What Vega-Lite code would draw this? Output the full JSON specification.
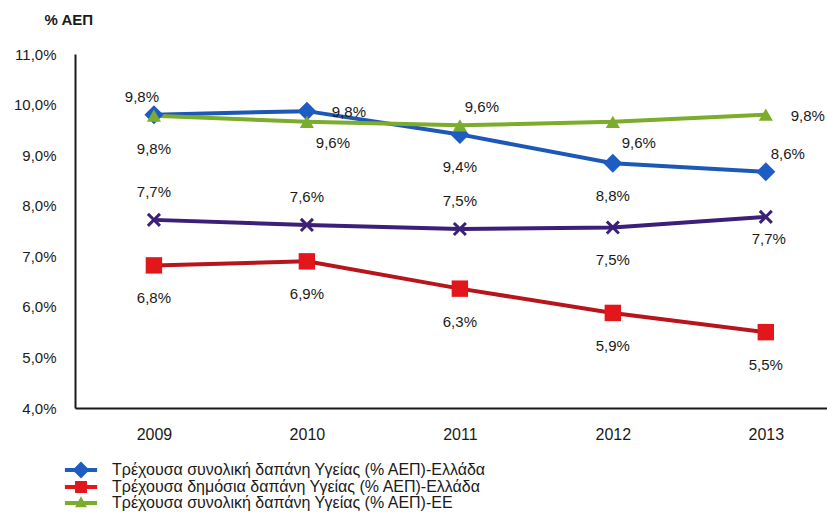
{
  "$schema": "https://vega.github.io/schema/vega-lite/v6.json",
  "width": 752,
  "height": 354,
  "autosize": {"type": "none"},
  "padding": {"left": 75, "top": 54, "right": 0, "bottom": 117},
  "background": "white",
  "config": {
    "view": {"stroke": null},
    "font": "Liberation Sans",
    "text": {"font": "Liberation Sans", "fontSize": 15, "color": "#1a1a1a", "baseline": "middle", "align": "center"}
  },
  "data": {
    "values": [
      {"year": 2009, "series": "Τρέχουσα συνολική δαπάνη Υγείας (% ΑΕΠ)-Ελλάδα", "value": 9.8, "label": "9,8%", "pos": "aboveleft"},
      {"year": 2010, "series": "Τρέχουσα συνολική δαπάνη Υγείας (% ΑΕΠ)-Ελλάδα", "value": 9.87, "label": "9,8%", "pos": "right"},
      {"year": 2011, "series": "Τρέχουσα συνολική δαπάνη Υγείας (% ΑΕΠ)-Ελλάδα", "value": 9.41, "label": "9,4%", "pos": "below"},
      {"year": 2012, "series": "Τρέχουσα συνολική δαπάνη Υγείας (% ΑΕΠ)-Ελλάδα", "value": 8.84, "label": "8,8%", "pos": "below"},
      {"year": 2013, "series": "Τρέχουσα συνολική δαπάνη Υγείας (% ΑΕΠ)-Ελλάδα", "value": 8.67, "label": "8,6%", "pos": "aboveright"},
      {"year": 2009, "series": "Τρέχουσα δημόσια δαπάνη Υγείας (% ΑΕΠ)-Ελλάδα", "value": 6.82, "label": "6,8%", "pos": "below"},
      {"year": 2010, "series": "Τρέχουσα δημόσια δαπάνη Υγείας (% ΑΕΠ)-Ελλάδα", "value": 6.9, "label": "6,9%", "pos": "below"},
      {"year": 2011, "series": "Τρέχουσα δημόσια δαπάνη Υγείας (% ΑΕΠ)-Ελλάδα", "value": 6.36, "label": "6,3%", "pos": "below"},
      {"year": 2012, "series": "Τρέχουσα δημόσια δαπάνη Υγείας (% ΑΕΠ)-Ελλάδα", "value": 5.88, "label": "5,9%", "pos": "below"},
      {"year": 2013, "series": "Τρέχουσα δημόσια δαπάνη Υγείας (% ΑΕΠ)-Ελλάδα", "value": 5.5, "label": "5,5%", "pos": "below"},
      {"year": 2009, "series": "Τρέχουσα συνολική δαπάνη Υγείας (% ΑΕΠ)-ΕΕ", "value": 9.78, "label": "9,8%", "pos": "below"},
      {"year": 2010, "series": "Τρέχουσα συνολική δαπάνη Υγείας (% ΑΕΠ)-ΕΕ", "value": 9.66, "label": "9,6%", "pos": "belowright"},
      {"year": 2011, "series": "Τρέχουσα συνολική δαπάνη Υγείας (% ΑΕΠ)-ΕΕ", "value": 9.59, "label": "9,6%", "pos": "aboveright"},
      {"year": 2012, "series": "Τρέχουσα συνολική δαπάνη Υγείας (% ΑΕΠ)-ΕΕ", "value": 9.66, "label": "9,6%", "pos": "belowright"},
      {"year": 2013, "series": "Τρέχουσα συνολική δαπάνη Υγείας (% ΑΕΠ)-ΕΕ", "value": 9.8, "label": "9,8%", "pos": "right"},
      {"year": 2009, "series": "Τρέχουσα δημόσια δαπάνη Υγείας (% ΑΕΠ)-ΕΕ", "value": 7.72, "label": "7,7%", "pos": "above"},
      {"year": 2010, "series": "Τρέχουσα δημόσια δαπάνη Υγείας (% ΑΕΠ)-ΕΕ", "value": 7.62, "label": "7,6%", "pos": "above"},
      {"year": 2011, "series": "Τρέχουσα δημόσια δαπάνη Υγείας (% ΑΕΠ)-ΕΕ", "value": 7.54, "label": "7,5%", "pos": "above"},
      {"year": 2012, "series": "Τρέχουσα δημόσια δαπάνη Υγείας (% ΑΕΠ)-ΕΕ", "value": 7.57, "label": "7,5%", "pos": "below"},
      {"year": 2013, "series": "Τρέχουσα δημόσια δαπάνη Υγείας (% ΑΕΠ)-ΕΕ", "value": 7.78, "label": "7,7%", "pos": "belownear"}
    ]
  },
  "encoding": {
    "x": {
      "field": "year", "type": "quantitative",
      "scale": {"domain": [2008.484, 2013.4], "nice": false, "zero": false},
      "axis": {
        "values": [2009, 2010, 2011, 2012, 2013], "format": "d", "title": null,
        "grid": false, "ticks": false, "domainColor": "#1a1a1a", "domainWidth": 2,
        "labelFont": "Liberation Sans", "labelFontSize": 16, "labelColor": "#1a1a1a",
        "labelPadding": 18, "labelFlush": false
      }
    },
    "y": {
      "field": "value", "type": "quantitative",
      "scale": {"domain": [4, 11], "nice": false, "zero": false},
      "axis": {
        "values": [4, 5, 6, 7, 8, 9, 10, 11],
        "labelExpr": "replace(format(datum.value, '.1f'), '.', ',') + '%'",
        "grid": false, "ticks": false, "domainColor": "#1a1a1a", "domainWidth": 2,
        "labelFont": "Liberation Sans", "labelFontSize": 15, "labelColor": "#1a1a1a",
        "labelPadding": 19, "labelFlush": false,
        "title": "% ΑΕΠ", "titleAngle": 0, "titleAlign": "left", "titleBaseline": "middle",
        "titleX": -31, "titleY": -35, "titleFont": "Liberation Sans",
        "titleFontSize": 15, "titleFontWeight": "bold", "titleColor": "#1a1a1a"
      }
    }
  },
  "layer": [
    {
      "mark": {"type": "line", "strokeWidth": 4},
      "encoding": {
        "color": {
          "field": "series", "type": "nominal",
          "scale": {
            "domain": ["Τρέχουσα συνολική δαπάνη Υγείας (% ΑΕΠ)-Ελλάδα", "Τρέχουσα δημόσια δαπάνη Υγείας (% ΑΕΠ)-Ελλάδα", "Τρέχουσα συνολική δαπάνη Υγείας (% ΑΕΠ)-ΕΕ", "Τρέχουσα δημόσια δαπάνη Υγείας (% ΑΕΠ)-ΕΕ"],
            "range": ["#1d58b6", "#b8141c", "#7cac2c", "#3b1f78"]
          },
          "legend": {
            "values": ["Τρέχουσα συνολική δαπάνη Υγείας (% ΑΕΠ)-Ελλάδα", "Τρέχουσα δημόσια δαπάνη Υγείας (% ΑΕΠ)-Ελλάδα", "Τρέχουσα συνολική δαπάνη Υγείας (% ΑΕΠ)-ΕΕ"],
            "title": null, "orient": "none", "legendX": -2, "legendY": 408,
            "labelFont": "Liberation Sans", "labelFontSize": 16, "labelColor": "#1a1a1a",
            "labelLimit": 600, "symbolSize": 196, "symbolType": "square", "rowPadding": -3, "labelOffset": 23,
            "encode": {
              "symbols": {
                "update": {
                  "shape": {"signal": "datum.index === 0 ? 'M-2.3,-0.28 L-0.92,-0.28 L0,-1.2 L0.92,-0.28 L2.3,-0.28 L2.3,0.28 L0.92,0.28 L0,1.2 L-0.92,0.28 L-2.3,0.28 Z' : datum.index === 1 ? 'M-2.3,-0.28 L-0.85,-0.28 L-0.85,-0.85 L0.85,-0.85 L0.85,-0.28 L2.3,-0.28 L2.3,0.28 L0.85,0.28 L0.85,0.85 L-0.85,0.85 L-0.85,0.28 L-2.3,0.28 Z' : 'M-2.3,-0.28 L-0.37,-0.28 L0,-0.95 L0.37,-0.28 L2.3,-0.28 L2.3,0.28 L0.675,0.28 L0.85,0.6 L-0.85,0.6 L-0.675,0.28 L-2.3,0.28 Z'"},
                  "fill": {"signal": "datum.index === 0 ? '#1d5cc2' : datum.index === 1 ? '#e3161c' : '#7cac2c'"},
                  "stroke": {"value": "transparent"},
                  "strokeWidth": {"value": 0},
                  "opacity": {"value": 1}
                }
              }
            }
          }
        }
      }
    },
    {
      "transform": [{"filter": "datum.series === 'Τρέχουσα συνολική δαπάνη Υγείας (% ΑΕΠ)-Ελλάδα'"}],
      "mark": {"type": "point", "filled": true, "opacity": 1, "shape": "diamond", "size": 360, "color": "#1d5cc2"}
    },
    {
      "transform": [{"filter": "datum.series === 'Τρέχουσα δημόσια δαπάνη Υγείας (% ΑΕΠ)-Ελλάδα'"}],
      "mark": {"type": "point", "filled": true, "opacity": 1, "shape": "square", "size": 270, "color": "#e3161c"}
    },
    {
      "transform": [{"filter": "datum.series === 'Τρέχουσα συνολική δαπάνη Υγείας (% ΑΕΠ)-ΕΕ'"}],
      "mark": {"type": "point", "filled": true, "opacity": 1, "shape": "triangle-up", "size": 200, "color": "#7cac2c"}
    },
    {
      "transform": [{"filter": "datum.series === 'Τρέχουσα δημόσια δαπάνη Υγείας (% ΑΕΠ)-ΕΕ'"}],
      "mark": {"type": "point", "filled": true, "opacity": 1, "shape": "M-1,-0.7 L-0.7,-1 L0,-0.3 L0.7,-1 L1,-0.7 L0.3,0 L1,0.7 L0.7,1 L0,0.3 L-0.7,1 L-1,0.7 L-0.3,0 Z", "size": 200, "color": "#3b1f78"}
    },
    {
      "transform": [{"filter": "datum.pos === 'below'"}],
      "mark": {"type": "text", "dy": 33},
      "encoding": {"text": {"field": "label"}}
    },
    {
      "transform": [{"filter": "datum.pos === 'above'"}],
      "mark": {"type": "text", "dy": -28},
      "encoding": {"text": {"field": "label"}}
    },
    {
      "transform": [{"filter": "datum.pos === 'aboveleft'"}],
      "mark": {"type": "text", "dx": -12, "dy": -18},
      "encoding": {"text": {"field": "label"}}
    },
    {
      "transform": [{"filter": "datum.pos === 'right'"}],
      "mark": {"type": "text", "dx": 42, "dy": 1},
      "encoding": {"text": {"field": "label"}}
    },
    {
      "transform": [{"filter": "datum.pos === 'belowright'"}],
      "mark": {"type": "text", "dx": 26, "dy": 21},
      "encoding": {"text": {"field": "label"}}
    },
    {
      "transform": [{"filter": "datum.pos === 'aboveright'"}],
      "mark": {"type": "text", "dx": 22, "dy": -18},
      "encoding": {"text": {"field": "label"}}
    },
    {
      "transform": [{"filter": "datum.pos === 'belownear'"}],
      "mark": {"type": "text", "dx": 3, "dy": 22},
      "encoding": {"text": {"field": "label"}}
    }
  ]
}
